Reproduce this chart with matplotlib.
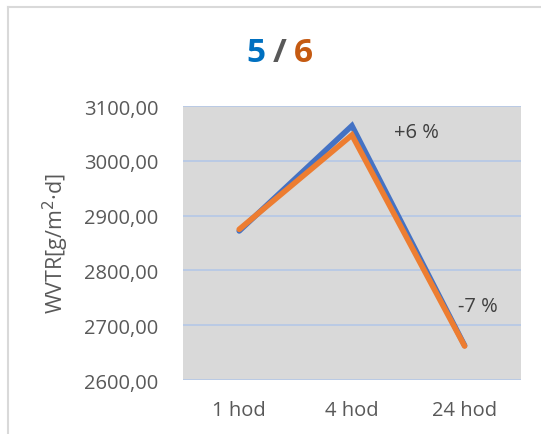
import matplotlib.pyplot as plt
from matplotlib.lines import Line2D

# data
times = ["1 hod", "4 hod", "24 hod"]
series_5 = [2872, 3064, 2663]
series_6 = [2875, 3047, 2662]
notes = ["+6 %", "-7 %"]
note_pos = [(1.57, 3052), (2.12, 2735)]

plt.rcParams['font.family'] = ['Open Sans', 'DejaVu Sans']

fig = plt.figure(figsize=(5.41, 4.35), dpi=100)
ax = fig.add_axes([0.338, 0.124, 0.625, 0.630])

x = range(len(times))
ax.plot(x, series_5, color='#4472C4', lw=4, solid_capstyle='round', solid_joinstyle='miter', zorder=3)
ax.plot(x, series_6, color='#ED7D31', lw=4, solid_capstyle='round', solid_joinstyle='miter', zorder=4)

for txt, (px, py) in zip(notes, note_pos):
    ax.text(px, py, txt, ha='center', va='center', fontsize=14.5, color='#404040')

ax.set_facecolor('#D9D9D9')
ax.set_xlim(-0.5, 2.5)
ax.set_ylim(2600, 3100)
ax.set_yticks([2600, 2700, 2800, 2900, 3000, 3100])
ax.set_yticklabels([f"{v:.2f}".replace('.', ',') for v in ax.get_yticks()])
ax.set_xticks(list(x))
ax.set_xticklabels(times)
ax.grid(axis='y', color='#B4C7E7', lw=1.2)
ax.set_axisbelow(True)
for s in ax.spines.values():
    s.set_visible(False)
ax.tick_params(length=0, labelsize=14.5, colors='#595959', pad=17.5)
ax.tick_params(axis='x', pad=14)
ax.set_ylabel("WVTR[g/m$^2$·d]", fontsize=15.5, color='#595959')
ax.yaxis.set_label_coords(-0.33, 0.5)

# coloured title
ty = 0.876
fig.text(0.491, ty, "5", color='#0070C0', fontsize=24, fontweight='bold', ha='right', va='center')
fig.text(0.517, ty, "/", color='#595959', fontsize=24, fontweight='bold', ha='center', va='center')
fig.text(0.543, ty, "6", color='#C55A11', fontsize=24, fontweight='bold', ha='left', va='center')

# chart-area border (top and left only visible)
fig.add_artist(Line2D([0.015, 1.0], [0.981, 0.981], color='#D9D9D9', lw=1.5))
fig.add_artist(Line2D([0.015, 0.015], [0.0, 0.981], color='#D9D9D9', lw=1.5))

fig.savefig('out.png', dpi=100)
